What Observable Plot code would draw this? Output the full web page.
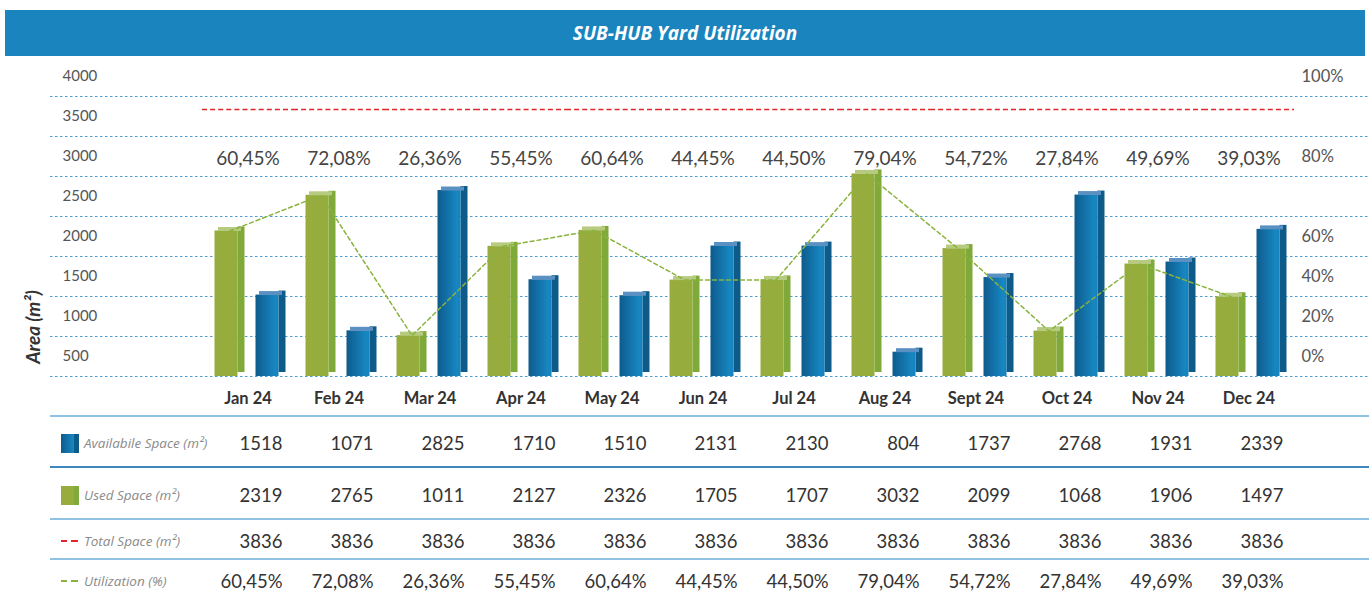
<!DOCTYPE html>
<html>
<head>
<meta charset="utf-8">
<script src="https://cdn.jsdelivr.net/npm/d3@7"></script>
<script src="https://cdn.jsdelivr.net/npm/@observablehq/plot@0.6"></script>
<style>
  html, body { margin: 0; padding: 0; background: #fff; }
  body { width: 1369px; height: 608px; position: relative; overflow: hidden; font-family: Lato, "Open Sans", sans-serif; }
  #titlebar { position: absolute; left: 5px; top: 10px; width: 1360px; height: 46px; background: #1a84bf; color: #fff;
    font-family: "Open Sans", sans-serif; font-weight: bold; font-style: italic; font-size: 19px; display: flex; align-items: center; justify-content: center; }
  #chart { position: absolute; left: 0; top: 56px; }
  #ylabel { position: absolute; left: 32px; top: 327px; transform: translate(-50%, -50%) rotate(-90deg);
    font-weight: bold; font-style: italic; font-size: 19px; color: #333; white-space: nowrap; }
  .hline { position: absolute; left: 50px; width: 1319px; }
  .cell { position: absolute; width: 100px; text-align: right; font-size: 18.5px; color: #333; transform: translateY(-50%); }
  .leg { position: absolute; left: 84px; font-family: "Open Sans", sans-serif; font-style: italic; font-size: 13.5px; color: #8a8a8a; transform: translateY(-50%); white-space: nowrap; }
</style>
</head>
<body>
<svg width="0" height="0" style="position:absolute">
  <defs>
    <linearGradient id="gBlue" x1="0" x2="1" y1="0" y2="0">
      <stop offset="0" stop-color="#0e5b8c"/>
      <stop offset="0.85" stop-color="#1787c2"/>
      <stop offset="1" stop-color="#1582bc"/>
    </linearGradient>
    <linearGradient id="gGreen" x1="0" x2="1" y1="0" y2="0">
      <stop offset="0" stop-color="#98ac3e"/>
      <stop offset="1" stop-color="#94ad3d"/>
    </linearGradient>
  </defs>
</svg>
<div id="titlebar">SUB-HUB Yard Utilization</div>
<div id="chart"></div>
<div id="ylabel">Area (m²)</div>
<div id="table"></div>
<script>
const months = ["Jan 24","Feb 24","Mar 24","Apr 24","May 24","Jun 24","Jul 24","Aug 24","Sept 24","Oct 24","Nov 24","Dec 24"];
const available = [1518,1071,2825,1710,1510,2131,2130,804,1737,2768,1931,2339];
const used = [2319,2765,1011,2127,2326,1705,1707,3032,2099,1068,1906,1497];
const total = [3836,3836,3836,3836,3836,3836,3836,3836,3836,3836,3836,3836];
const utilization = [60.45,72.08,26.36,55.45,60.64,44.45,44.50,79.04,54.72,27.84,49.69,39.03];
const areaTicks = [500,1000,1500,2000,2500,3000,3500,4000];
const pctTickLabels = ["0%","20%","40%","60%","80%","100%"];
const pctTickAt = [500,1000,1500,2000,3000,4000];

const rows = months.map((m, i) => ({month: m, available: available[i], used: used[i], total: total[i], util: utilization[i]}));
const fmtPct = v => d3.format(".2f")(v).replace(".", ",") + "%";
const base = d3.min(areaTicks);

const chart = Plot.plot({
  width: 1369, height: 360,
  marginLeft: 50, marginRight: 0, marginTop: 40, marginBottom: 40,
  x: {type: "band", domain: months, range: [202, 1294], padding: 0, axis: null},
  y: {domain: [base, d3.max(areaTicks)], axis: null},
  style: {fontFamily: "Lato, 'Open Sans', sans-serif", background: "transparent", overflow: "visible"},
  marks: [
    Plot.ruleY(areaTicks, {stroke: "#4c9dd1", strokeDasharray: "2.5,2.5", strokeWidth: 1.2}),
    Plot.text(areaTicks, {y: d => d, text: d => String(d), frameAnchor: "left", dx: 12, dy: -20, textAnchor: "start", lineAnchor: "middle", fontSize: 15, fill: "#555"}),
    Plot.text(pctTickLabels, {y: (d, i) => pctTickAt[i], text: d => d, frameAnchor: "right", dx: -68, dy: -20, textAnchor: "start", lineAnchor: "middle", fontSize: 16.5, fill: "#555"}),
    Plot.tickY(rows, {x: "month", y: "total", stroke: "#e0252b", strokeDasharray: "5,3.1", strokeWidth: 1.5}),
    // used space (green 3D bars)
    Plot.barY(rows, {x: "month", y1: base, y2: "used", fill: "#7faa3a", insetLeft: 35.5, insetRight: 48.5, dy: -4}),
    Plot.barY(rows, {x: "month", y1: base, y2: "used", fill: "url(#gGreen)", insetLeft: 12.5, insetRight: 55.5}),
    Plot.tickY(rows, {x: "month", y: "used", stroke: "#b7cb80", strokeWidth: 4, insetLeft: 16, insetRight: 52, dy: -2}),
    // available space (blue 3D bars)
    Plot.barY(rows, {x: "month", y1: base, y2: "available", fill: "#0e5a88", insetLeft: 76.5, insetRight: 7.5, dy: -4}),
    Plot.barY(rows, {x: "month", y1: base, y2: "available", fill: "url(#gBlue)", insetLeft: 53.5, insetRight: 14.5}),
    Plot.tickY(rows, {x: "month", y: "available", stroke: "#5b90c2", strokeWidth: 4, insetLeft: 57, insetRight: 11, dy: -2}),
    // utilization line
    Plot.lineY(rows, {x: "month", y: d => d.util / 100 * d.total, stroke: "#8ab33e", strokeWidth: 1.5, strokeDasharray: "4,3", dx: -18}),
    Plot.text(rows, {x: "month", text: d => fmtPct(d.util), frameAnchor: "top", lineAnchor: "middle", dy: 62, fontSize: 19, fill: "#444"}),
    Plot.text(rows, {x: "month", text: "month", frameAnchor: "bottom", lineAnchor: "middle", dy: 22, fontSize: 16.5, fontWeight: "bold", fill: "#333"})
  ]
});
document.getElementById("chart").appendChild(chart);

// data table below the chart, aligned with the x scale
const xs = chart.scale("x");
const bw = xs.bandwidth;
const table = document.getElementById("table");
const addLine = (top, h, color) => {
  const d = document.createElement("div");
  d.className = "hline";
  d.style.top = top + "px"; d.style.height = h + "px"; d.style.background = color;
  table.appendChild(d);
};
addLine(415, 2, "#8ec3e3");
addLine(466, 1.5, "#3f88bf");
addLine(518, 2, "#8ec3e3");
addLine(558, 2, "#8ec3e3");

const tableRows = [
  {y: 443, label: "Availabile Space (m²)", values: available.map(String), icon: "blue"},
  {y: 495, label: "Used Space (m²)", values: used.map(String), icon: "green"},
  {y: 541, label: "Total Space (m²)", values: total.map(String), icon: "red"},
  {y: 581, label: "Utilization (%)", values: utilization.map(fmtPct), icon: "gdash"}
];
for (const r of tableRows) {
  const l = document.createElement("div");
  l.className = "leg"; l.style.top = r.y + "px"; l.textContent = r.label;
  table.appendChild(l);
  const ic = document.createElement("div");
  ic.style.position = "absolute";
  if (r.icon === "blue" || r.icon === "green") {
    ic.style.left = "61px"; ic.style.top = (r.y - 9) + "px"; ic.style.width = "18px"; ic.style.height = "19px";
    ic.style.background = r.icon === "blue"
      ? "linear-gradient(to right, #0e5b8c 0%, #1787c2 70%, #0e5a88 72%, #0e5a88 100%)"
      : "linear-gradient(to right, #98ac3e 0%, #98ac3e 70%, #80aa3c 72%, #80aa3c 100%)";
  } else {
    const col = r.icon === "red" ? "#e0252b" : "#8ab33e";
    ic.style.left = "61px"; ic.style.top = (r.y - 1) + "px"; ic.style.width = "17px"; ic.style.height = "2px";
    ic.style.background = `linear-gradient(to right, ${col} 0, ${col} 6px, transparent 6px, transparent 10px, ${col} 10px, ${col} 17px)`;
  }
  table.appendChild(ic);
  r.values.forEach((v, i) => {
    const c = document.createElement("div");
    c.className = "cell";
    const cx = xs.apply(months[i]) + bw / 2;
    c.style.left = (cx + 35 - 100) + "px";
    c.style.top = r.y + "px";
    c.textContent = v;
    table.appendChild(c);
  });
}
</script>
</body>
</html>
